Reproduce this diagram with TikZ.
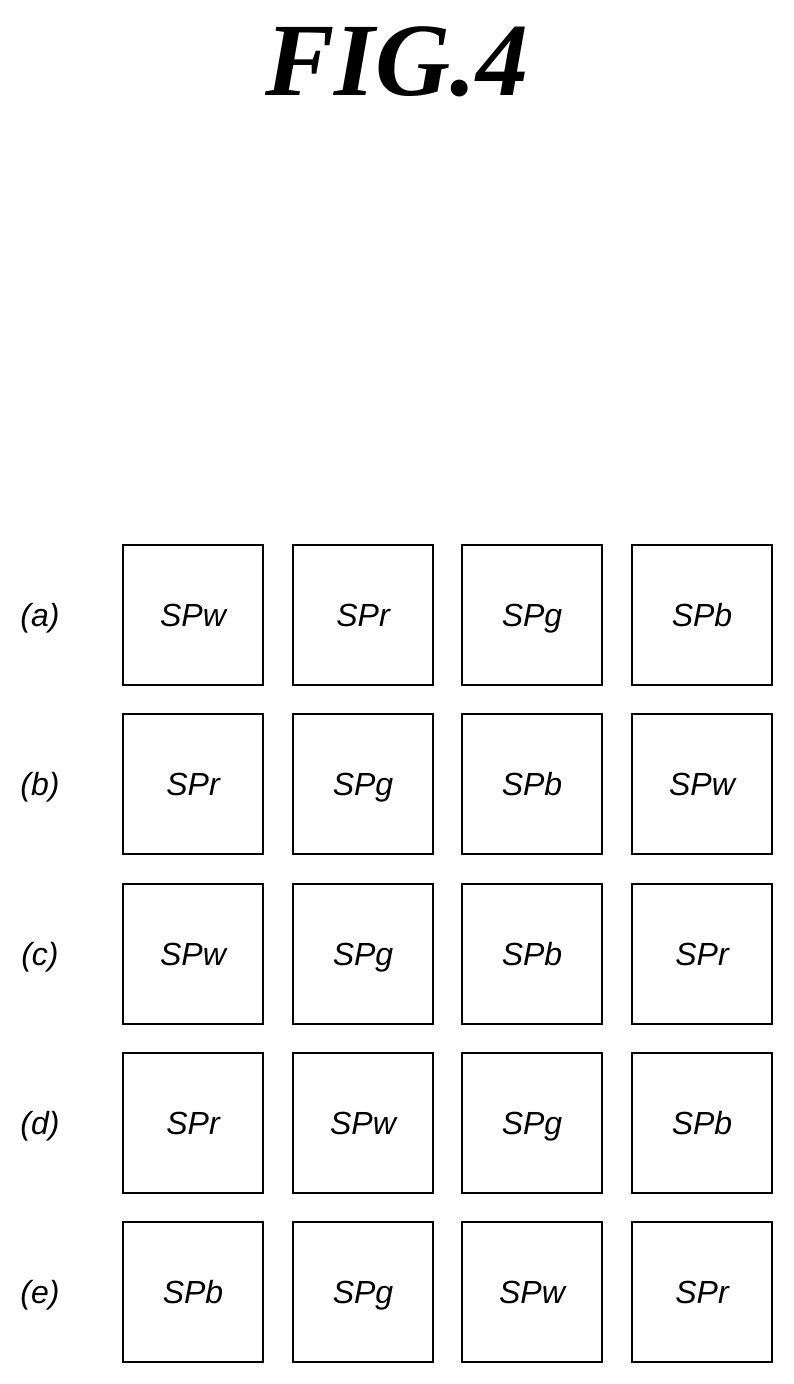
\documentclass[tikz,border=0pt]{standalone}
\usepackage{fontspec}
\setmainfont{Liberation Serif}
\setsansfont{Liberation Sans}
\begin{document}
\begin{tikzpicture}[x=1pt,y=-1pt,
  txt/.style={font=\sffamily\itshape\fontsize{32}{36}\selectfont,text height=27pt,text depth=5pt,inner sep=0pt},
  cell/.style={txt,draw,line width=2pt,minimum width=140pt,minimum height=140pt},
  lab/.style={txt}]
\useasboundingbox (0,0) rectangle (794,1384);
\node[font=\bfseries\itshape\fontsize{104}{112}\selectfont,inner sep=0pt] (title) at (397,62) {FIG.4};
\foreach \r/\y/\l/\a/\b/\c/\d in {
  1/615/a/SPw/SPr/SPg/SPb,
  2/784/b/SPr/SPg/SPb/SPw,
  3/954/c/SPw/SPg/SPb/SPr,
  4/1123/d/SPr/SPw/SPg/SPb,
  5/1292/e/SPb/SPg/SPw/SPr}{
  \node[lab] (L\r) at (40,\y) {(\l)};
  \node[cell] (C\r1) at (193,\y) {\a};
  \node[cell] (C\r2) at (363,\y) {\b};
  \node[cell] (C\r3) at (532,\y) {\c};
  \node[cell] (C\r4) at (702,\y) {\d};
}
\end{tikzpicture}
\end{document}
